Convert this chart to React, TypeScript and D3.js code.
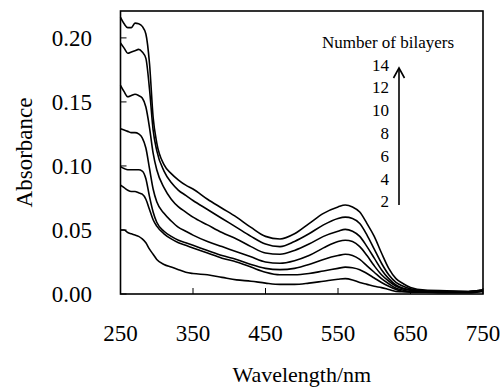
import React from "react";
import * as d3 from "d3";

// wavelength grid (nm) shared by all spectra
const wavelengths = [
  250, 255, 260, 265, 270, 275, 280, 285, 290, 295, 300, 310, 320, 330, 340,
  350, 370, 390, 410, 430, 450, 470, 490, 510, 530, 550, 560, 570, 580, 590,
  600, 610, 620, 630, 640, 650, 670, 700, 730, 750,
];

// absorbance, one array per bilayer count
const bilayers14 = [
  0.216, 0.211, 0.208, 0.208, 0.2115, 0.211, 0.209, 0.203, 0.18, 0.138,
  0.118, 0.101, 0.094, 0.089, 0.085, 0.082, 0.074, 0.067, 0.06, 0.052,
  0.045, 0.043, 0.047, 0.055, 0.063, 0.068, 0.0695, 0.068, 0.064, 0.055,
  0.045, 0.032, 0.02, 0.012, 0.008, 0.005, 0.003, 0.0025, 0.002, 0.003,
];
const bilayers12 = [
  0.196, 0.192, 0.188, 0.189, 0.19, 0.191, 0.189, 0.184, 0.16, 0.128,
  0.112, 0.096, 0.087, 0.081, 0.077, 0.073, 0.066, 0.059, 0.052, 0.045,
  0.039, 0.037, 0.041, 0.047, 0.054, 0.059, 0.06, 0.059, 0.055, 0.046,
  0.035, 0.024, 0.015, 0.009, 0.006, 0.004, 0.0025, 0.002, 0.002, 0.003,
];
const bilayers10 = [
  0.163, 0.158, 0.154, 0.155, 0.156, 0.155, 0.153, 0.146, 0.13, 0.11,
  0.097, 0.083, 0.074, 0.068, 0.064, 0.06, 0.054, 0.048, 0.043, 0.037,
  0.032, 0.031, 0.034, 0.039, 0.045, 0.049, 0.0505, 0.049, 0.045, 0.037,
  0.028, 0.019, 0.012, 0.007, 0.0045, 0.003, 0.002, 0.002, 0.0018, 0.0028,
];
const bilayers8 = [
  0.129, 0.128, 0.127, 0.126, 0.126, 0.125, 0.122, 0.114, 0.098, 0.082,
  0.072, 0.063, 0.057, 0.052, 0.049, 0.046, 0.041, 0.037, 0.033, 0.029,
  0.025, 0.024, 0.026, 0.03, 0.036, 0.041, 0.042, 0.041, 0.037, 0.03,
  0.022, 0.015, 0.01, 0.006, 0.004, 0.003, 0.002, 0.0018, 0.0018, 0.0028,
];
const bilayers6 = [
  0.0995, 0.098, 0.097, 0.097, 0.097, 0.097, 0.096, 0.09, 0.076, 0.064,
  0.056, 0.049, 0.045, 0.042, 0.04, 0.038, 0.034, 0.03, 0.027, 0.023,
  0.02, 0.019, 0.02, 0.023, 0.027, 0.03, 0.031, 0.03, 0.027, 0.022,
  0.017, 0.012, 0.008, 0.0045, 0.003, 0.002, 0.0018, 0.0015, 0.0015, 0.0025,
];
const bilayers4 = [
  0.085, 0.083, 0.081, 0.08, 0.08, 0.079, 0.078, 0.074, 0.066, 0.058,
  0.053, 0.047, 0.043, 0.04, 0.038, 0.036, 0.032, 0.028, 0.025, 0.021,
  0.017, 0.015, 0.015, 0.016, 0.018, 0.02, 0.021, 0.0205, 0.019, 0.016,
  0.0125, 0.009, 0.006, 0.0035, 0.002, 0.0015, 0.0015, 0.0012, 0.0012, 0.0022,
];
const bilayers2 = [
  0.05, 0.05, 0.048, 0.047, 0.046, 0.045, 0.043, 0.04, 0.035, 0.031,
  0.027, 0.023, 0.021, 0.019, 0.017, 0.016, 0.015, 0.013, 0.011, 0.01,
  0.0085, 0.0075, 0.0075, 0.0085, 0.01, 0.0115, 0.012, 0.011, 0.009, 0.0075,
  0.006, 0.005, 0.0035, 0.002, 0.0018, 0.0018, 0.0015, 0.001, 0.001, 0.002,
];

const xTicks = [250, 350, 450, 550, 650, 750];
const yTicks = [0, 0.05, 0.1, 0.15, 0.2];
const legendLabels = ["14", "12", "10", "8", "6", "4", "2"];

const W = 501;
const H = 387;
const FONT = "'Liberation Serif', 'Times New Roman', serif";

export default function App() {
  const series = [
    bilayers2,
    bilayers4,
    bilayers6,
    bilayers8,
    bilayers10,
    bilayers12,
    bilayers14,
  ];

  const x = d3.scaleLinear().domain([250, 750]).range([120.5, 483]);
  const y = d3.scaleLinear().domain([0, 0.221]).range([294, 11]);

  const line = d3
    .line<number>()
    .x((_, i) => x(wavelengths[i]))
    .y((d) => y(d))
    .curve(d3.curveMonotoneX);

  const [x0, x1] = x.range();
  const [y0, y1] = y.range();

  // legend layout
  const legendX = 389;
  const legendTop = 70.5;
  const legendStep = 22.8;
  const arrowX = 399;

  return (
    <svg
      width={W}
      height={H}
      style={{ position: "absolute", left: 0, top: 0, background: "#fff" }}
      fontFamily={FONT}
    >
      {/* spectra */}
      {series.map((s, i) => (
        <path
          key={i}
          d={line(s) || ""}
          fill="none"
          stroke="#000"
          strokeWidth={1.6}
          strokeLinejoin="round"
        />
      ))}

      {/* frame */}
      <rect
        x={x0}
        y={y1}
        width={x1 - x0}
        height={y0 - y1}
        fill="none"
        stroke="#000"
        strokeWidth={1.6}
      />

      {/* x ticks (inside) and labels */}
      {xTicks.map((t) => (
        <g key={t}>
          <line x1={x(t)} x2={x(t)} y1={y0} y2={y0 - 6} stroke="#000" strokeWidth={1} />
          <text x={x(t)} y={341} textAnchor="middle" fontSize={23}>
            {t}
          </text>
        </g>
      ))}

      {/* y ticks (inside) and labels */}
      {yTicks.map((t) => (
        <g key={t}>
          <line x1={x0} x2={x0 + 6} y1={y(t)} y2={y(t)} stroke="#000" strokeWidth={1} />
          <text x={92} y={y(t) + 8} textAnchor="end" fontSize={23}>
            {t.toFixed(2)}
          </text>
        </g>
      ))}

      {/* axis titles */}
      <text x={(x0 + x1) / 2} y={382} textAnchor="middle" fontSize={22}>
        Wavelength/nm
      </text>
      <text
        transform={`translate(32,${(y0 + y1) / 2}) rotate(-90)`}
        textAnchor="middle"
        fontSize={23}
      >
        Absorbance
      </text>

      {/* legend */}
      <text x={388} y={48} textAnchor="middle" fontSize={17}>
        Number of bilayers
      </text>
      {legendLabels.map((l, i) => (
        <text
          key={l}
          x={legendX}
          y={legendTop + i * legendStep}
          textAnchor="end"
          fontSize={17}
        >
          {l}
        </text>
      ))}
      <line x1={arrowX} x2={arrowX} y1={205} y2={68} stroke="#000" strokeWidth={1.6} />
      <polyline
        points={`${arrowX - 5.5},${78} ${arrowX},${68} ${arrowX + 5.5},${78}`}
        fill="none"
        stroke="#000"
        strokeWidth={1.6}
      />
    </svg>
  );
}
